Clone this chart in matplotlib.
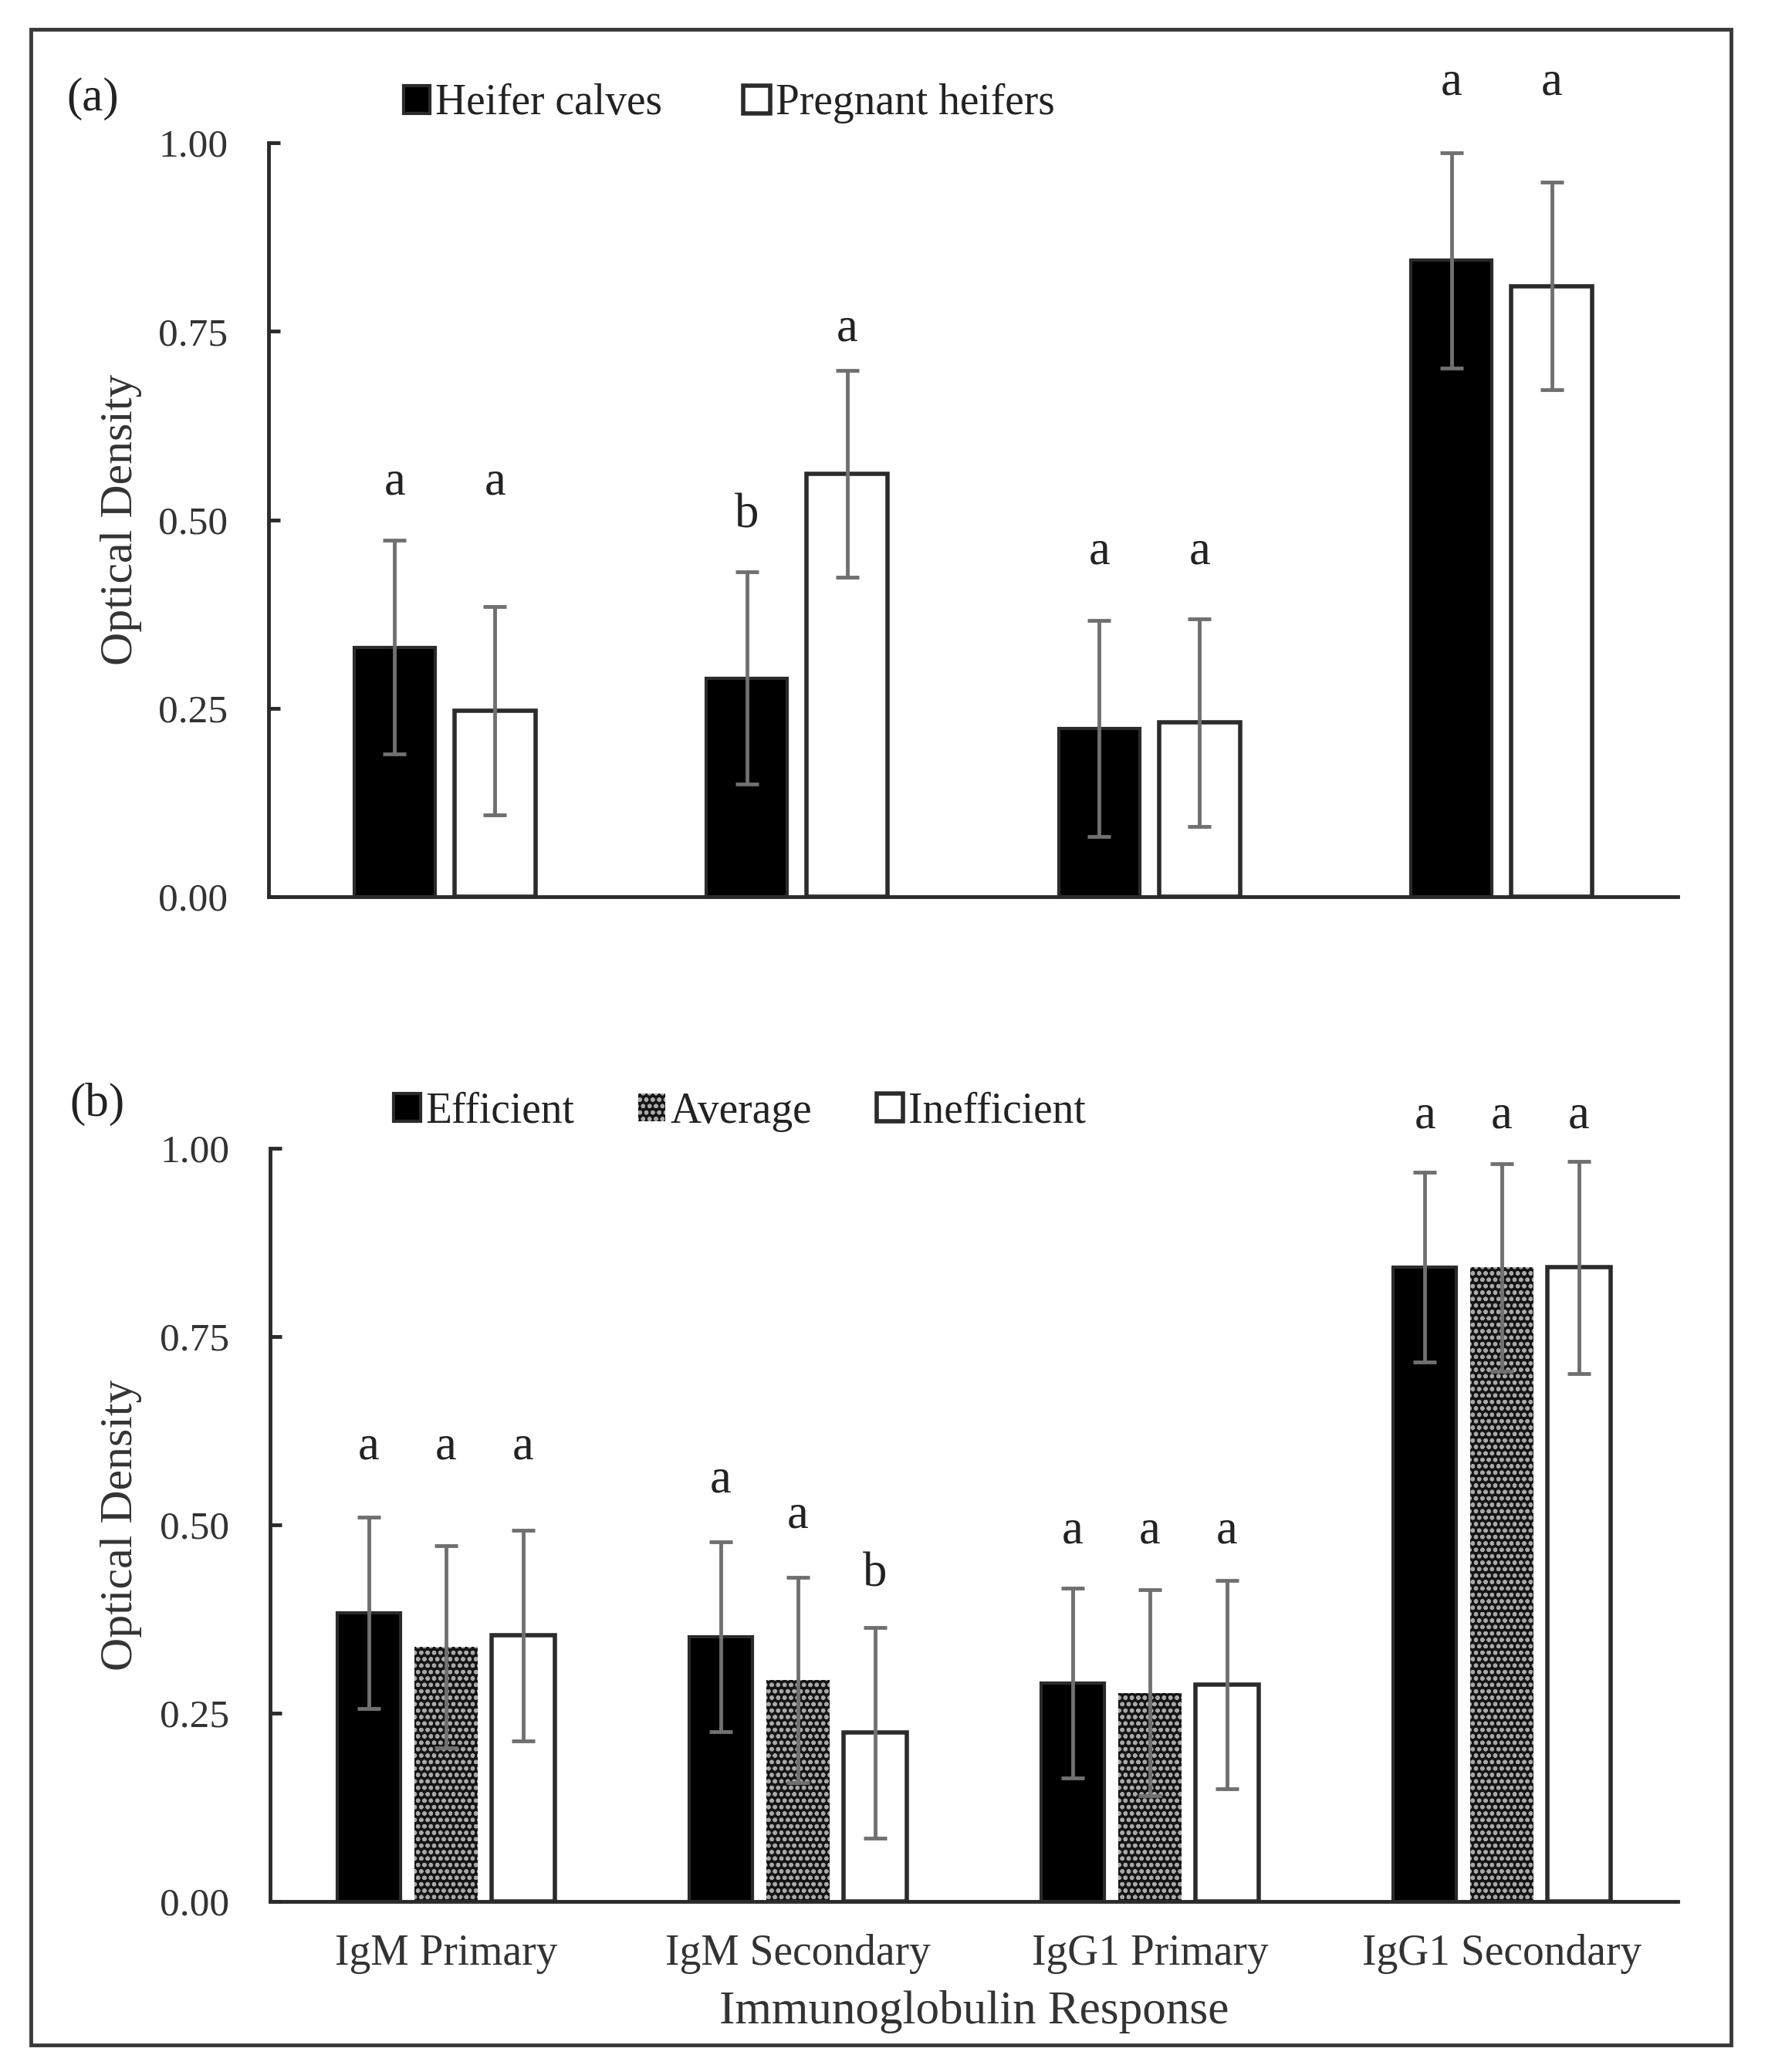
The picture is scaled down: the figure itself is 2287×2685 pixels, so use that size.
import numpy as np
import matplotlib
matplotlib.use("Agg")
import matplotlib.pyplot as plt
from matplotlib.patches import Rectangle

plt.rcParams['font.family'] = ['Liberation Serif', 'DejaVu Serif']
plt.rcParams['hatch.linewidth'] = 1.6
plt.rcParams['text.color'] = '#222222'

groups = ['IgM Primary', 'IgM Secondary', 'IgG1 Primary', 'IgG1 Secondary']
ticks = [0.0, 0.25, 0.50, 0.75, 1.00]

# panel (a)
calves = [0.331, 0.290, 0.223, 0.844]
calves_se = [0.142, 0.141, 0.143, 0.143]
calves_let = ['a', 'b', 'a', 'a']
calves_let_y = [0.549, 0.505, 0.457, 1.079]
preg = [0.247, 0.561, 0.231, 0.810]
preg_se = [0.138, 0.137, 0.138, 0.138]
preg_let = ['a', 'a', 'a', 'a']
preg_let_y = [0.549, 0.753, 0.457, 1.079]

# panel (b)
eff = [0.383, 0.351, 0.290, 0.842]
eff_se = [0.127, 0.126, 0.126, 0.126]
eff_let = ['a', 'a', 'a', 'a']
eff_let_y = [0.603, 0.559, 0.491, 1.043]
avg = [0.338, 0.294, 0.277, 0.842]
avg_se = [0.134, 0.136, 0.137, 0.138]
avg_let = ['a', 'a', 'a', 'a']
avg_let_y = [0.603, 0.512, 0.491, 1.043]
ineff = [0.353, 0.224, 0.288, 0.842]
ineff_se = [0.140, 0.140, 0.138, 0.141]
ineff_let = ['a', 'b', 'a', 'a']
ineff_let_y = [0.603, 0.434, 0.491, 1.043]

DARK = '#2b2b2b'
ECOL = '#707070'

fig = plt.figure(figsize=(22.87, 26.85), dpi=100)
ax_a = fig.add_axes([0.1522, 0.5672, 0.7984, 0.3639])
ax_b = fig.add_axes([0.1530, 0.0823, 0.7976, 0.3635])

x = np.arange(len(groups))


def draw_series(ax, xpos, vals, se, lets, let_y, width, style):
    if style == 'black':
        bars = ax.bar(xpos, vals, width, color='black', edgecolor=DARK, linewidth=3, zorder=2)
    elif style == 'white':
        bars = ax.bar(xpos, vals, width, color='white', edgecolor=DARK, linewidth=4, zorder=2)
    else:
        bars = ax.bar(xpos, vals, width, color='#151515', edgecolor='#a8a8a8', linewidth=0,
                      hatch='oo', zorder=2)
    ax.errorbar(xpos, vals, yerr=se, fmt='none', ecolor=ECOL, elinewidth=3.5,
                capsize=11, capthick=3.5, zorder=3)
    for xi, t, yy in zip(xpos, lets, let_y):
        ax.text(xi, yy, t, ha='center', va='center', fontsize=45, clip_on=False)
    return bars


def style_axes(ax):
    ax.set_xlim(-0.5, 3.5)
    ax.set_ylim(0, 1.0)
    ax.set_yticks(ticks)
    ax.set_yticklabels(['%.2f' % t for t in ticks])
    for s in ['top', 'right']:
        ax.spines[s].set_visible(False)
    for s in ['left', 'bottom']:
        ax.spines[s].set_linewidth(3.5)
        ax.spines[s].set_color(DARK)
    ax.tick_params(axis='y', direction='in', length=11, width=3.5, color=DARK,
                   labelsize=37, pad=38, labelcolor='#333333')
    ax.tick_params(axis='x', length=0, labelsize=40, pad=30, labelcolor='#333333')
    ax.patch.set_alpha(0)


# panel (a)
bw_a = 0.23
off_a = 0.1425
h1 = draw_series(ax_a, x - off_a, calves, calves_se, calves_let, calves_let_y, bw_a, 'black')
h2 = draw_series(ax_a, x + off_a, preg, preg_se, preg_let, preg_let_y, bw_a, 'white')
style_axes(ax_a)
ax_a.set_xticks([])
fig.legend([h1, h2], ['Heifer calves', 'Pregnant heifers'], loc='center',
           bbox_to_anchor=(0.413, 0.950), ncol=2, frameon=False, fontsize=40,
           handlelength=0.62, handleheight=0.62, handletextpad=0.12, columnspacing=1.9,
           borderpad=0)

# panel (b)
bw_b = 0.18
off_b = 0.219
g1 = draw_series(ax_b, x - off_b, eff, eff_se, eff_let, eff_let_y, bw_b, 'black')
g2 = draw_series(ax_b, x, avg, avg_se, avg_let, avg_let_y, bw_b, 'hatch')
g3 = draw_series(ax_b, x + off_b, ineff, ineff_se, ineff_let, ineff_let_y, bw_b, 'white')
style_axes(ax_b)
ax_b.set_xticks(x)
ax_b.set_xticklabels(groups)
fig.legend([g1, g2, g3], ['Efficient', 'Average', 'Inefficient'], loc='center',
           bbox_to_anchor=(0.419, 0.4635), ncol=3, frameon=False, fontsize=40,
           handlelength=0.62, handleheight=0.62, handletextpad=0.12, columnspacing=1.5,
           borderpad=0)

for ax in (ax_a, ax_b):
    fig.text(0.0687, ax.get_position().y0 + ax.get_position().height / 2,
             'Optical Density', rotation=90, ha='center', va='center', fontsize=43,
             color='#333333')

fig.text(0.552, 0.029, 'Immunoglobulin Response', ha='center', va='center', fontsize=44,
         color='#333333')
fig.text(0.0525, 0.9523, '(a)', ha='center', va='center', fontsize=44)
fig.text(0.0551, 0.4670, '(b)', ha='center', va='center', fontsize=44)

fig.patches.append(Rectangle((0.0175, 0.013), 0.9633, 0.9728, transform=fig.transFigure,
                             fill=False, edgecolor='#3a3a3a', linewidth=3.5))

fig.savefig('out.png', dpi=100, facecolor='white')
